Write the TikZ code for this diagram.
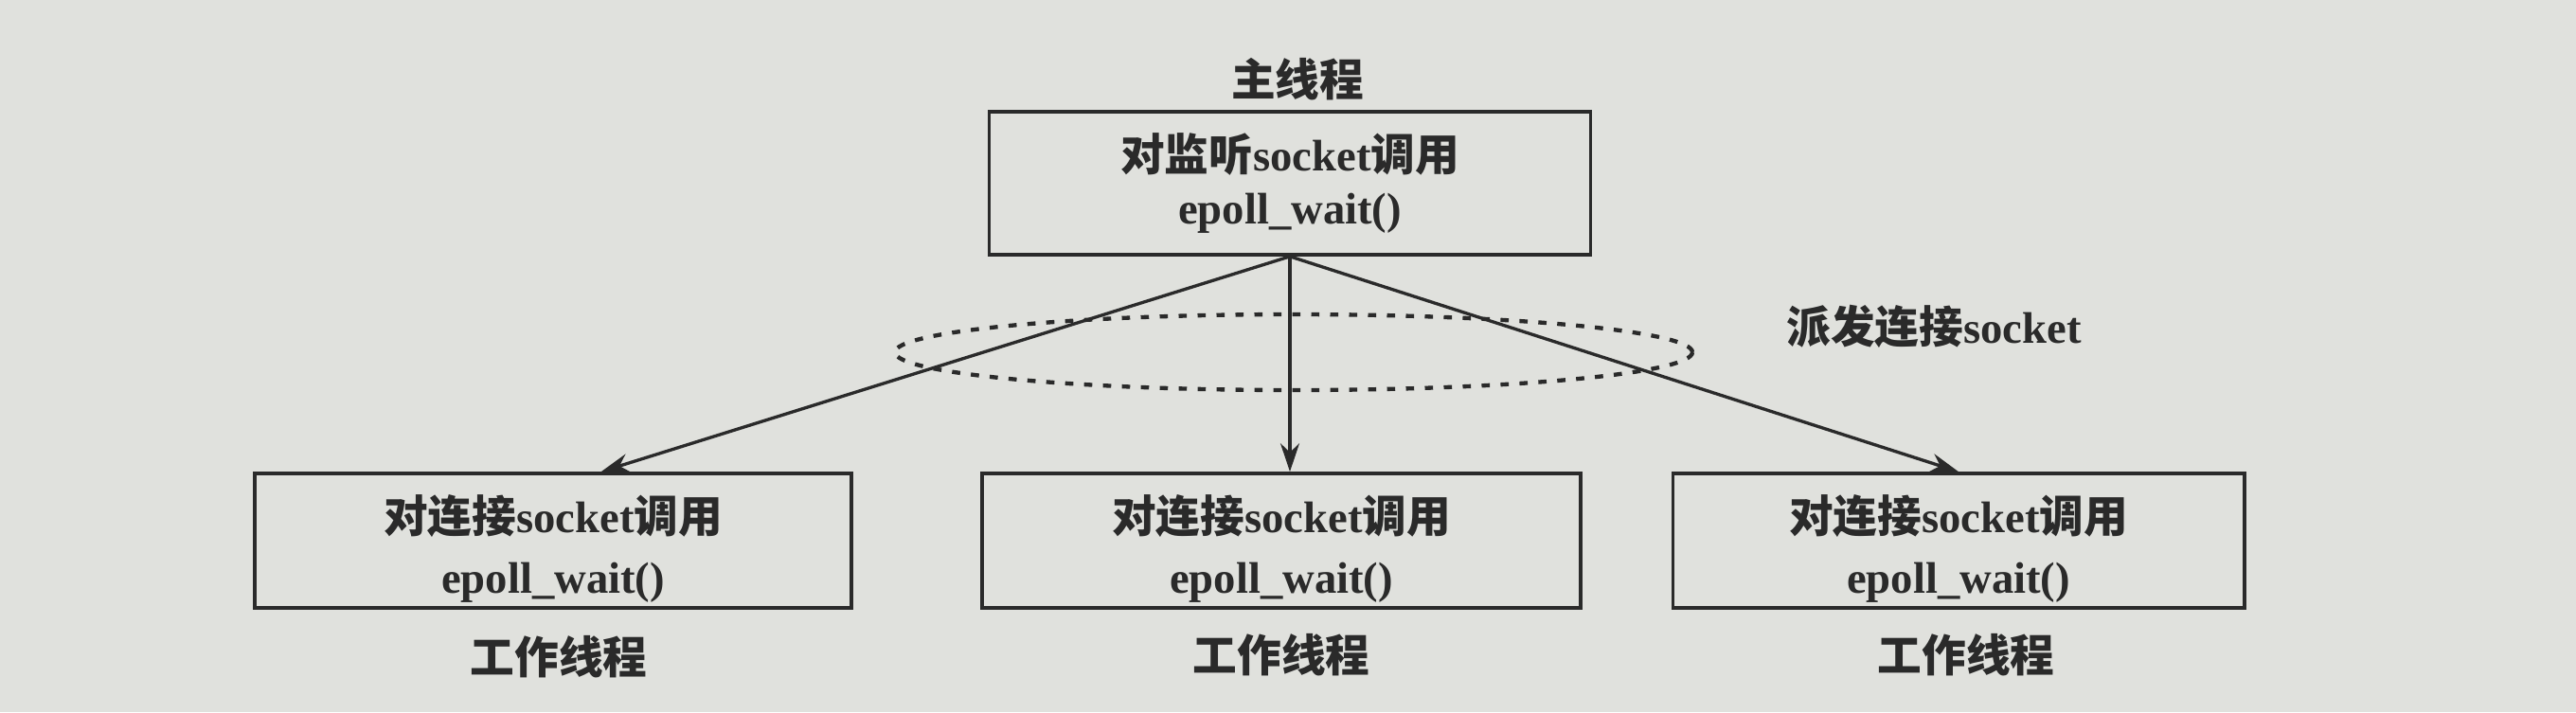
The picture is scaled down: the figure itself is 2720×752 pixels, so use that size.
\documentclass[tikz,border=0pt]{standalone}
\usepackage{fontspec}
\setmainfont{Liberation Serif}
\newfontfamily\cjk{Noto Sans CJK SC}
\usetikzlibrary{arrows.meta,shapes.geometric,calc}
\newcommand{\zh}[1]{{\cjk\bfseries #1}}
\newcommand{\topstrut}{\rule{0pt}{17pt}}
\definecolor{bgc}{RGB}{224,225,221}
\definecolor{ink}{RGB}{42,42,42}
\tikzset{
  box/.style={draw=ink, line width=1.1pt, text=ink, align=center, inner sep=0pt,
    font=\bfseries\fontsize{14}{19}\selectfont},
  lbl/.style={text=ink, inner sep=0pt, font=\bfseries\fontsize{14}{17}\selectfont},
  arr/.style={draw=ink, line width=1pt, -{Stealth[length=9pt,width=6pt]}},
  sel/.style={draw=ink, line width=1.3pt, dash pattern=on 2.6pt off 3.4pt, ellipse, inner sep=0pt}
}
\begin{document}
\begin{tikzpicture}[x=0.3pt,y=-0.3pt]
\path[fill=bgc] (0,0) rectangle (2720,752);
\useasboundingbox (0,0) rectangle (2720,752);

\node[box, minimum width=190.5pt, minimum height=45.3pt] (main) at (1362,193.5)
  {\zh{对监听}socket\zh{调用}\\[-2pt] epoll\_wait()};
\node[lbl] (mainlbl) at (1370,84) {\zh{主线程}};

\node[box, minimum width=189pt, minimum height=42.6pt] (w1) at (584,571)
  {\topstrut\zh{对连接}socket\zh{调用}\\ epoll\_wait()};
\node[box, minimum width=189.6pt, minimum height=42.6pt] (w2) at (1353,571)
  {\topstrut\zh{对连接}socket\zh{调用}\\ epoll\_wait()};
\node[box, minimum width=181pt, minimum height=42.6pt] (w3) at (2068,571)
  {\topstrut\zh{对连接}socket\zh{调用}\\ epoll\_wait()};

\node[lbl] (l1) at (590,694) {\zh{工作线程}};
\node[lbl] (l2) at (1353,692) {\zh{工作线程}};
\node[lbl] (l3) at (2076,692) {\zh{工作线程}};

\node[lbl] (disp) at (2042,345) {\zh{派发连接}socket};

\node[sel, minimum width=252.6pt, minimum height=24pt] (ring) at (1366,372) {};

\coordinate (t1) at ($(w1.north west)!0.58!(w1.north east)$);
\coordinate (t3) at ($(w3.north west)!0.5!(w3.north east)$);
\draw[arr] (main.south) -- (t1);
\draw[arr] (main.south) -- (main.south |- w2.north);
\draw[arr] (main.south) -- (t3);
\end{tikzpicture}
\end{document}
